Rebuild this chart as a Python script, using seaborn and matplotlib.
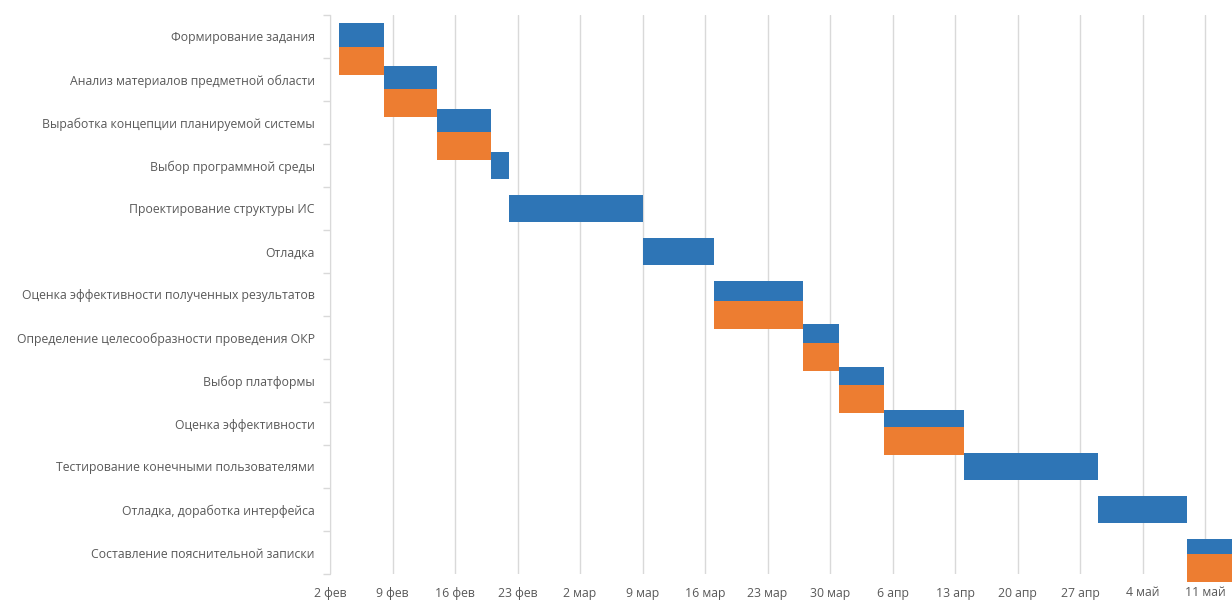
import pandas as pd
import matplotlib.pyplot as plt
import matplotlib.dates as mdates
import seaborn as sns
import numpy as np

# Tasks of the project schedule (top to bottom)
tasks = ['Формирование задания',
         'Анализ материалов предметной области',
         'Выработка концепции планируемой системы',
         'Выбор программной среды',
         'Проектирование структуры ИС',
         'Отладка',
         'Оценка эффективности полученных результатов',
         'Определение целесообразности проведения ОКР',
         'Выбор платформы',
         'Оценка эффективности',
         'Тестирование конечными пользователями',
         'Отладка, доработка интерфейса',
         'Составление пояснительной записки']

# Planned dates (blue)
plan_start = ['2021-02-03', '2021-02-08', '2021-02-14', '2021-02-20', '2021-02-22',
              '2021-03-09', '2021-03-17', '2021-03-27', '2021-03-31', '2021-04-05',
              '2021-04-14', '2021-04-29', '2021-05-09']
plan_end = ['2021-02-08', '2021-02-14', '2021-02-20', '2021-02-22', '2021-03-09',
            '2021-03-17', '2021-03-27', '2021-03-31', '2021-04-05', '2021-04-14',
            '2021-04-29', '2021-05-09', '2021-05-16']

# Actual dates (orange), None where there is no bar
fact_start = ['2021-02-03', '2021-02-08', '2021-02-14', None, None,
              None, '2021-03-17', '2021-03-27', '2021-03-31', '2021-04-05',
              None, None, '2021-05-09']
fact_end = ['2021-02-08', '2021-02-14', '2021-02-20', None, None,
            None, '2021-03-27', '2021-03-31', '2021-04-05', '2021-04-14',
            None, None, '2021-05-16']

tick_labels = ['2 фев', '9 фев', '16 фев', '23 фев', '2 мар', '9 мар', '16 мар', '23 мар',
               '30 мар', '6 апр', '13 апр', '20 апр', '27 апр', '4 май', '11 май']

sns.set_style('white')
plt.rcParams['font.family'] = ['Open Sans', 'DejaVu Sans']

plan = pd.DataFrame({'task': tasks,
                     'start': pd.to_datetime(plan_start),
                     'end': pd.to_datetime(plan_end)})
fact = pd.DataFrame({'task': tasks,
                     'start': pd.to_datetime(fact_start),
                     'end': pd.to_datetime(fact_end)})
fact['pos'] = np.arange(len(tasks))
fact = fact.dropna()
plan['pos'] = np.arange(len(tasks))

blue = '#2E75B6'
orange = '#ED7D31'
grid_col = '#d9d9d9'
text_col = '#595959'

fig = plt.figure(figsize=(12.32, 6.01), dpi=100)
ax = fig.add_axes([330 / 1232, 1 - 574 / 601, 1 - 330 / 1232, (574 - 15) / 601])

left = mdates.date2num(plan['start'])
width = mdates.date2num(plan['end']) - left
ax.barh(plan['pos'], width, left=left, height=0.65, color=blue, linewidth=0, zorder=3)

ax.set_ylim(12.5, -0.5)
ax.set_yticks(plan['pos'])
ax.set_yticklabels(tasks, fontsize=8.8, color=text_col)
ax.set_yticks(np.arange(-0.5, 13, 1), minor=True)
ax.tick_params(axis='y', which='major', length=0, pad=11)
ax.tick_params(axis='y', which='minor', length=5, color=grid_col, width=1)

x0 = pd.Timestamp('2021-02-02')
ticks = pd.date_range(x0, periods=len(tick_labels), freq='7D')
ax.set_xlim(mdates.date2num(x0), mdates.date2num(pd.Timestamp('2021-05-14')))
ax.set_xticks(mdates.date2num(ticks))
ax.set_xticklabels(tick_labels, fontsize=8.8, color=text_col)
ax.tick_params(axis='x', length=0, pad=9)
ax.grid(axis='x', color=grid_col, linewidth=1, zorder=0)
ax.set_axisbelow(True)

sns.despine(ax=ax, top=True, right=True, bottom=True, left=False)
ax.spines['left'].set_color(grid_col)

# Actual dates sit on a secondary axis, as in the original spreadsheet chart
ax2 = ax.twinx()
ax2.set_ylim(12.14, -1.09)
fl = mdates.date2num(fact['start'])
fw = mdates.date2num(fact['end']) - fl
ax2.barh(fact['pos'], fw, left=fl, height=0.66, color=orange, linewidth=0,
         clip_on=False, zorder=3)
ax2.set_yticks([])
for s in ax2.spines.values():
    s.set_visible(False)

fig.savefig('out.png', dpi=100)
